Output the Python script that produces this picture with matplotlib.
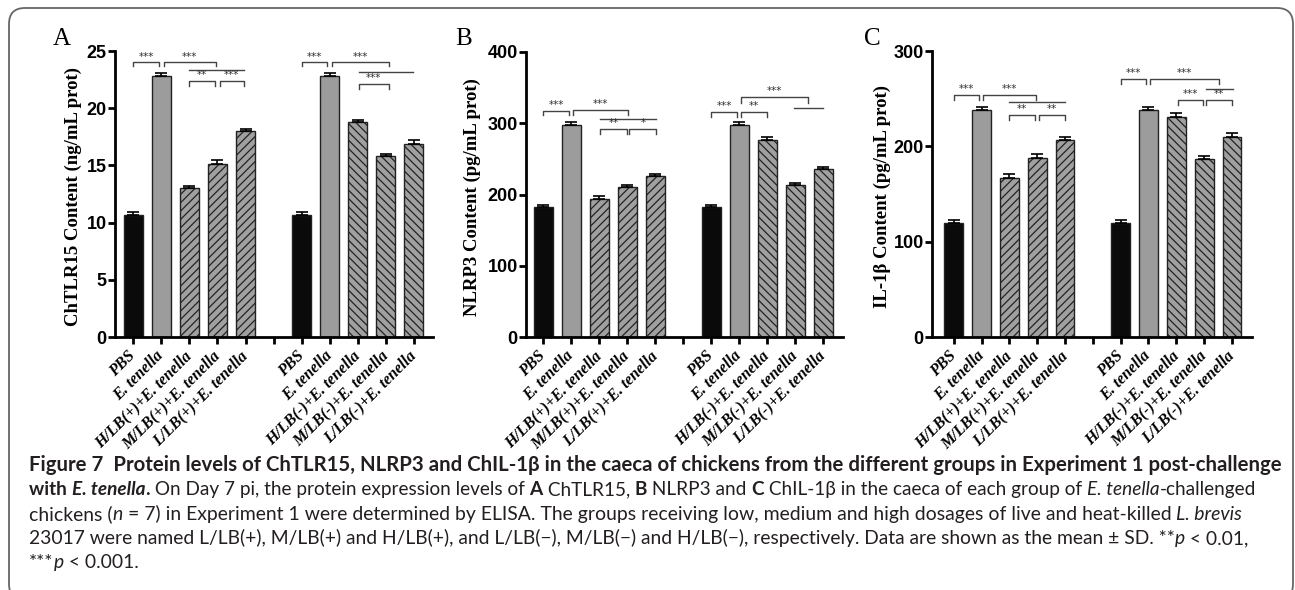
import numpy as np
import matplotlib
matplotlib.use('Agg')
import matplotlib.pyplot as plt
from matplotlib.patches import FancyBboxPatch
from matplotlib.transforms import IdentityTransform

W, H = 1295, 590

groups = ['PBS', 'E. tenella', 'H/LB(+)+E. tenella', 'M/LB(+)+E. tenella', 'L/LB(+)+E. tenella',
          'PBS', 'E. tenella', 'H/LB(-)+E. tenella', 'M/LB(-)+E. tenella', 'L/LB(-)+E. tenella']

tlr15_mean = [10.7, 22.8, 13.0, 15.1, 18.0, 10.7, 22.8, 18.8, 15.8, 16.9]
tlr15_sd = [0.25, 0.3, 0.2, 0.35, 0.2, 0.25, 0.3, 0.2, 0.2, 0.3]
nlrp3_mean = [182, 297, 194, 211, 226, 182, 297, 276, 213, 236]
nlrp3_sd = [3, 5, 4, 2, 3, 3, 5, 5, 3, 3]
il1b_mean = [120, 238, 167, 188, 207, 120, 238, 231, 187, 210]
il1b_sd = [3, 3, 4, 4, 3, 3, 3, 4, 3, 4]

# significance marks: (x1, x2, y, drop, label)
tlr15_sig = [(0, 0.92, 24.0, 0.35, '***'), (1.08, 2.95, 24.0, 0.35, '***'),
             (2.0, 3.93, 23.3, 0, ''), (2.0, 2.92, 22.4, 0.45, '**'), (3.08, 3.95, 22.4, 0.45, '***'),
             (6.0, 6.92, 24.0, 0.35, '***'), (7.08, 9.1, 24.0, 0.35, '***'),
             (8.03, 9.98, 23.2, 0, ''), (8.05, 9.1, 22.1, 0.45, '***')]
nlrp3_sig = [(0, 0.93, 317, 6, '***'), (1.07, 3.05, 319, 8, '***'),
             (2.05, 4.05, 306, 0, ''), (2.05, 2.98, 292, 7, '**'), (3.08, 4.05, 292, 7, '*'),
             (6.0, 6.93, 316, 7, '***'), (7.07, 8.0, 316, 7, '**'), (7.07, 9.47, 337, 8, '***'),
             (8.95, 10.0, 322, 0, '')]
il1b_sig = [(0, 0.9, 254, 5, '***'), (1.06, 2.97, 254, 5, '***'),
            (2.0, 4.0, 246, 0, ''), (2.0, 2.93, 233, 5, '**'), (3.07, 4.0, 233, 5, '**'),
            (6.0, 6.92, 271, 6, '***'), (7.06, 9.55, 271, 6, '***'),
            (9.08, 10.02, 260, 0, ''), (8.05, 8.95, 249, 6, '***'), (9.07, 10.0, 249, 6, '**')]

ylabels = ['ChTLR15 Content (ng/mL prot)', 'NLRP3 Content (pg/mL prot)', 'IL-1β Content (pg/mL prot)']
letters = ['A', 'B', 'C']

caption = [
    [("Figure 7  Protein levels of ChTLR15, NLRP3 and ChIL-1β in the caeca of chickens from the different groups in Experiment 1 post-challenge", 'b')],
    [("with ", 'b'), ("E. tenella", 'bi'), (".", 'b'), (" On Day 7 pi, the protein expression levels of ", 'r'),
     ("A", 'b'), (" ChTLR15, ", 'r'), ("B", 'b'), (" NLRP3 and ", 'r'), ("C", 'b'),
     (" ChIL-1β in the caeca of each group of ", 'r'), ("E. tenella", 'i'), ("-challenged", 'r')],
    [("chickens (", 'r'), ("n", 'i'), (" = 7) in Experiment 1 were determined by ELISA. The groups receiving low, medium and high dosages of live and heat-killed ", 'r'),
     ("L. brevis", 'i')],
    [("23017 were named L/LB(+), M/LB(+) and H/LB(+), and L/LB(−), M/LB(−) and H/LB(−), respectively. Data are shown as the mean ± SD. **", 'r'),
     ("p", 'i'), (" < 0.01,", 'r')],
    [("***", 'r'), ("p", 'i'), (" < 0.001.", 'r')],
]

plt.rcParams['hatch.linewidth'] = 0.9
plt.rcParams['hatch.color'] = '#1a1a1a'

fig = plt.figure(figsize=(W / 100, H / 100), dpi=100)

positions = list(range(5)) + list(range(6, 11))
faces = ['#0a0a0a', '#9c9c9c'] + ['#a0a0a0'] * 3 + ['#0a0a0a', '#9c9c9c'] + ['#a0a0a0'] * 3
hatches = [None, None] + ['////'] * 3 + [None, None] + ['\\\\\\\\'] * 3

# axes boxes in pixels: left, right, top (y of ylim max), bottom
boxes = [(115, 433, 51, 337), (526, 843, 52, 337), (932, 1252, 51, 337)]
xlims = [(-0.65, 10.68), (-0.61, 10.71), (-0.78, 10.72)]
yticks = [[0, 5, 10, 15, 20, 25], [0, 100, 200, 300, 400], [0, 100, 200, 300]]
label_x = [-0.104, -0.142, -0.128]
letter_x = [53, 455, 864]

panels = [(tlr15_mean, tlr15_sd, tlr15_sig), (nlrp3_mean, nlrp3_sd, nlrp3_sig), (il1b_mean, il1b_sd, il1b_sig)]

for i, (means, sds, sig) in enumerate(panels):
    l, r, t, b = boxes[i]
    ax = fig.add_axes([l / W, (H - b) / H, (r - l) / W, (b - t) / H])
    for p, m, fc, h in zip(positions, means, faces, hatches):
        ax.bar(p, m, width=0.68, color=fc, edgecolor='#222222', linewidth=1.0, hatch=h, zorder=2)
    ax.errorbar(positions, means, yerr=[np.zeros(len(sds)), sds], fmt='none', ecolor='black',
                elinewidth=1.2, capsize=4.5, capthick=1.2, zorder=3)
    for x1, x2, y, d, lab in sig:
        ax.plot([x1, x1, x2, x2], [y - d, y, y, y - d], color='#444444', lw=1.0, clip_on=False)
        if lab:
            ax.annotate(lab, ((x1 + x2) / 2, y), xytext=(0, 0.5), textcoords='offset points',
                        ha='center', va='bottom', fontsize=7.5, color='#333333')
    ax.set_xlim(*xlims[i])
    ax.set_ylim(0, yticks[i][-1])
    ax.set_yticks(yticks[i])
    ax.set_yticklabels([str(v) for v in yticks[i]], fontfamily='Liberation Sans', fontweight='bold', fontsize=13)
    ax.set_xticks(range(11))
    ax.set_xticklabels(groups[:5] + [''] + groups[5:], rotation=45, ha='right', va='center',
                       rotation_mode='anchor', fontfamily='Liberation Serif', fontweight='bold',
                       fontstyle='italic', fontsize=11.5)
    ax.tick_params(axis='both', direction='out', length=5, width=2, color='black')
    ax.tick_params(axis='y', pad=1)
    ax.tick_params(axis='x', pad=7)
    for s in ['top', 'right']:
        ax.spines[s].set_visible(False)
    for s in ['left', 'bottom']:
        ax.spines[s].set_linewidth(2)
    ax.set_ylabel(ylabels[i], fontfamily='Liberation Serif', fontweight='bold', fontsize=13.5)
    ax.yaxis.set_label_coords(label_x[i], 0.49)
    fig.text(letter_x[i], H - 45, letters[i], transform=IdentityTransform(), fontsize=18,
             fontfamily='Liberation Serif', va='baseline', ha='left')

# caption
renderer = fig.canvas.get_renderer()


def style_kw(st):
    return dict(family=['Lato', 'DejaVu Sans'], weight='bold' if 'b' in st else 'normal',
                style='italic' if 'i' in st else 'normal')


def text_w(s, st, size):
    a = fig.text(0, 0, '|' + s + '|', fontsize=size, **style_kw(st))
    c = fig.text(0, 0, '||', fontsize=size, **style_kw(st))
    w = a.get_window_extent(renderer).width - c.get_window_extent(renderer).width
    a.remove()
    c.remove()
    return w


def draw_line(runs, x0, y_base, size, target=None):
    if target:
        total = sum(text_w(s, st, size) for s, st in runs)
        size = size * target / total
    x = x0
    for s, st in runs:
        fig.text(x, H - y_base, s, transform=IdentityTransform(), fontsize=size, va='baseline',
                 ha='left', color='#231f20', **style_kw(st))
        x += text_w(s, st, size)
    return size


cap_x = 29
cap_base = [471, 495, 520, 544, 568]
cap_right = [1278, 1264, 1238, 1250, None]
size = 11
for runs, yb, xr in zip(caption, cap_base, cap_right):
    size = draw_line(runs, cap_x, yb, size, None if xr is None else xr - cap_x)

fig.add_artist(FancyBboxPatch((9, H - 600), 1284, 592, boxstyle='round,pad=0,rounding_size=16',
                              transform=IdentityTransform(), fill=False, ec='#666666', lw=1.3))

fig.savefig('out.png', dpi=100)
